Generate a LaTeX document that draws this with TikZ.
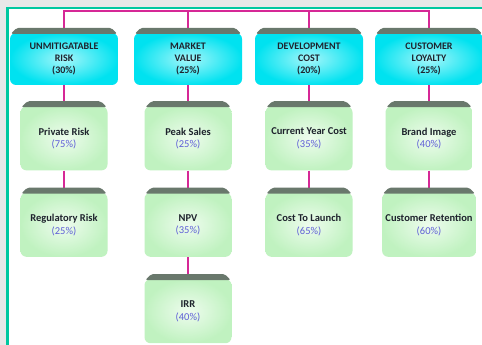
\documentclass[tikz,border=0pt]{standalone}
\usepackage{fontspec}
\setmainfont{Carlito}
\usetikzlibrary{positioning,calc}
\definecolor{frame}{RGB}{0,200,160}
\definecolor{canvas}{RGB}{232,232,232}
\definecolor{wire}{RGB}{214,40,150}
\definecolor{aqua}{RGB}{0,226,240}
\definecolor{aquapale}{RGB}{165,246,250}
\definecolor{mint}{RGB}{192,242,192}
\definecolor{mintpale}{RGB}{238,252,238}
\definecolor{tabgray}{RGB}{105,120,108}
\definecolor{ink}{RGB}{30,35,45}
\definecolor{share}{RGB}{95,95,215}
\tikzset{
  head/.style = {rounded corners=6pt, inner color=aquapale, outer color=aqua, text=ink,
                 align=center, minimum width=108pt, minimum height=52pt,
                 font=\fontsize{10}{12}\selectfont\bfseries},
  leaf/.style = {rounded corners=6pt, inner color=mintpale, outer color=mint, text=ink,
                 align=center, minimum width=87pt, minimum height=64pt,
                 font=\fontsize{10.5}{12.5}\selectfont\bfseries},
  tab/.style  = {fill=tabgray, rounded corners=2pt},
  link/.style = {draw=wire, line width=1.5pt},
}
\newcommand{\share}[1]{\\{\color{share}\mdseries(#1\%)}}

\begin{document}
\begin{tikzpicture}[x=1pt, y=-1pt, node distance=22pt]
\clip (0,0) rectangle (482,345);
% panel
\fill[canvas] (0,0) rectangle (482,345);
\draw[draw=frame, fill=white, line width=2.5pt] (7.5,8) rectangle (500,360);

% Row 1: criteria
\node[head] (unmit)   at (64,59)  {UNMITIGATABLE\\RISK\\(30\%)};
\node[head] (market)  at (188,59) {MARKET\\VALUE\\(25\%)};
\node[head] (devcost) at (309,59) {DEVELOPMENT\\COST\\(20\%)};
\node[head] (loyalty) at (429,59) {CUSTOMER\\LOYALTY\\(25\%)};

% Rows 2-4: sub-criteria
\node[leaf, below=21pt of unmit]   (priv)    {Private Risk\share{75}};
\node[leaf, below=of priv]         (reg)     {Regulatory Risk\share{25}};
\node[leaf, below=21pt of market]  (peak)    {Peak Sales\share{25}};
\node[leaf, below=of peak]         (npv)     {NPV\share{35}};
\node[leaf, below=of npv]          (irr)     {IRR\share{40}};
\node[leaf, below=21pt of devcost] (curcost) {Current Year Cost\share{35}};
\node[leaf, below=of curcost]      (launch)  {Cost To Launch\share{65}};
\node[leaf, below=21pt of loyalty] (brand)   {Brand Image\share{40}};
\node[leaf, below=of brand]        (retain)  {Customer Retention\share{60}};

% connectors
\coordinate (bus) at (0,11);
\draw[link] (unmit.north) -- (unmit.north |- bus) -- (loyalty.north |- bus) -- (loyalty.north);
\draw[link] (market.north) -- (market.north |- bus);
\draw[link] (devcost.north) -- (devcost.north |- bus);
\draw[link] (unmit) -- (priv) -- (reg);
\draw[link] (market) -- (peak) -- (npv) -- (irr);
\draw[link] (devcost) -- (curcost) -- (launch);
\draw[link] (loyalty) -- (brand) -- (retain);

% tabs on top of every box
\foreach \n in {unmit,market,devcost,loyalty,priv,reg,peak,npv,irr,curcost,launch,brand,retain}{%
  \fill[tab] ($(\n.north west)+(1,1)$) -- ($(\n.north west)+(7,-5)$)
    -- ($(\n.north east)+(-7,-5)$) -- ($(\n.north east)+(-1,1)$) -- cycle;}
\end{tikzpicture}
\end{document}
